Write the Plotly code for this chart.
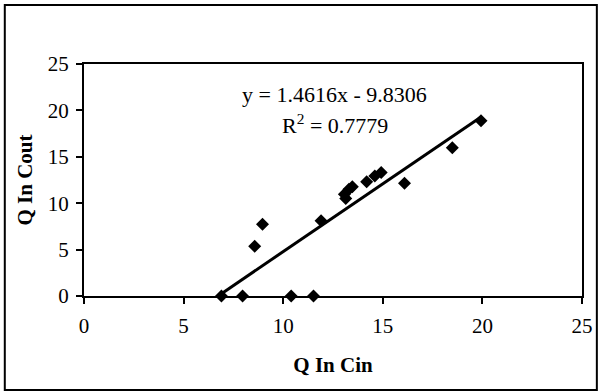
import plotly.graph_objects as go

# Data
q_in_cin = [6.90, 7.96, 10.40, 11.52, 8.57, 8.96, 11.90, 13.14, 13.07, 13.30, 13.47, 14.19, 14.60, 14.92, 16.09, 18.49, 19.93]
q_in_cout = [0.0, 0.0, 0.0, 0.0, 5.35, 7.72, 8.12, 10.50, 10.96, 11.50, 11.78, 12.32, 12.93, 13.32, 12.14, 15.98, 18.89]
slope = 1.4616
intercept = -9.8306
r_squared = 0.7779
axis_ticks = [0, 5, 10, 15, 20, 25]

x_fit = [min(q_in_cin), max(q_in_cin)]
y_fit = [slope * v + intercept for v in x_fit]

FONT = "Liberation Serif"

fig = go.Figure()
fig.add_trace(go.Scatter(
    x=x_fit, y=y_fit, mode="lines",
    line=dict(color="black", width=3),
    showlegend=False, hoverinfo="skip",
))
fig.add_trace(go.Scatter(
    x=q_in_cin, y=q_in_cout, mode="markers",
    marker=dict(symbol="diamond", color="black", size=10),
    showlegend=False, cliponaxis=False,
))

fig.add_annotation(
    x=12.6, y=21.75, xref="x", yref="y",
    text=f"y = {slope}x - {abs(intercept)}",
    showarrow=False, font=dict(family=FONT, size=22, color="black"),
)
fig.add_annotation(
    x=12.6, y=18.55, xref="x", yref="y",
    text=f"R<sup>2</sup> = {r_squared}",
    showarrow=False, font=dict(family=FONT, size=22, color="black"),
)

L, R, T, B = 84, 18, 64, 96
W, H = 605, 392
pw, ph = W - L - R, H - T - B
# outer frame
fig.add_shape(
    type="rect", xref="paper", yref="paper",
    x0=(4 - L) / pw, x1=(602 - L) / pw,
    y0=(H - B - 390) / ph, y1=(H - B - 5) / ph,
    line=dict(color="black", width=2), layer="below",
)

axis_common = dict(
    range=[0, 25], tickvals=axis_ticks, ticktext=[str(t) for t in axis_ticks],
    showgrid=False, zeroline=False,
    showline=True, linecolor="black", linewidth=2, mirror=True,
    ticks="outside", ticklen=6, tickwidth=2, tickcolor="black",
    tickfont=dict(family=FONT, size=21, color="black"),
)

fig.update_layout(
    width=W, height=H,
    margin=dict(l=L, r=R, t=T, b=B),
    paper_bgcolor="white", plot_bgcolor="white",
    xaxis=dict(**axis_common, ticklabelstandoff=4,
               title=dict(text="<b>Q In Cin</b>", font=dict(family=FONT, size=21, color="black"), standoff=20)),
    yaxis=dict(**axis_common, ticklabelstandoff=3,
               title=dict(text="<b>Q In Cout</b>", font=dict(family=FONT, size=21, color="black"), standoff=9)),
)

fig.write_html("out.html")
